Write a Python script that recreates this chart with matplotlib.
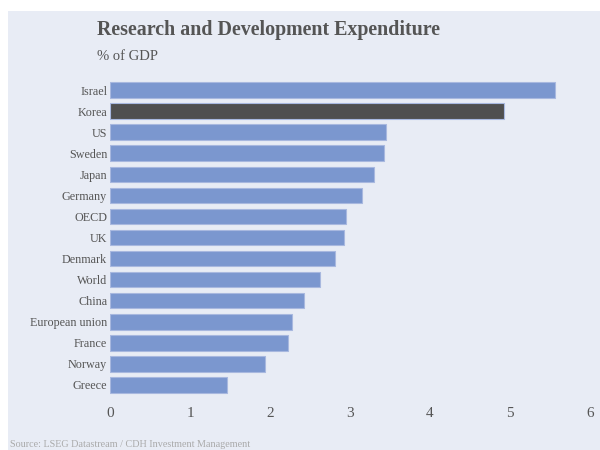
import matplotlib
matplotlib.use("Agg")
import matplotlib.pyplot as plt
from matplotlib.patches import Rectangle

# R&D spending, % of GDP
countries = ["Israel", "Korea", "US", "Sweden", "Japan", "Germany", "OECD", "UK",
             "Denmark", "World", "China", "European union", "France", "Norway", "Greece"]
values = [5.56, 4.93, 3.45, 3.42, 3.30, 3.15, 2.95, 2.92,
          2.81, 2.62, 2.43, 2.28, 2.22, 1.94, 1.46]
highlight = "Korea"
x_ticks = [0, 1, 2, 3, 4, 5, 6]

BG = "#e8ecf5"
BAR = "#7b97cf"
DARK = "#4f4f4f"
TEXT = "#555555"

plt.rcParams["font.family"] = ["Liberation Serif", "DejaVu Serif"]

fig = plt.figure(figsize=(6, 4.5), dpi=100, facecolor="white")
fig.patches.append(Rectangle((8 / 600, 0), 1, 1 - 11 / 450, transform=fig.transFigure,
                             facecolor=BG, edgecolor="none", zorder=-10))

ax = fig.add_axes([110 / 600, 1 - 395.5 / 450, 480 / 600, 316 / 450])
ax.patch.set_alpha(0)

pos = list(range(len(countries)))
colors = [DARK if c == highlight else BAR for c in countries]
ax.barh(pos, values, height=0.74, color=colors, edgecolor="#a8b8df", linewidth=0.8)

ax.set_ylim(len(countries) - 0.5, -0.5)
ax.set_xlim(0, 6)
ax.set_yticks(pos)
ax.set_yticklabels(countries, fontsize=8.7, color=TEXT)
ax.set_xticks(x_ticks)
ax.set_xticklabels([str(t) for t in x_ticks], fontsize=11, color=TEXT)
ax.tick_params(length=0)
ax.tick_params(axis="y", pad=2)
ax.tick_params(axis="x", pad=8)
for s in ax.spines.values():
    s.set_visible(False)

fig.text(97 / 600, 1 - 30 / 450, "Research and Development Expenditure",
         fontsize=14.4, fontweight="bold", color=TEXT, va="center", ha="left")
fig.text(97 / 600, 1 - 56 / 450, "% of GDP", fontsize=10.5, color=TEXT,
         va="center", ha="left")
fig.text(10 / 600, 1 - 440 / 450, "Source: LSEG Datastream / CDH Investment Management",
         fontsize=7.3, color="#aaaaaa", va="top", ha="left")

fig.savefig("out.png", dpi=100, facecolor="white")
